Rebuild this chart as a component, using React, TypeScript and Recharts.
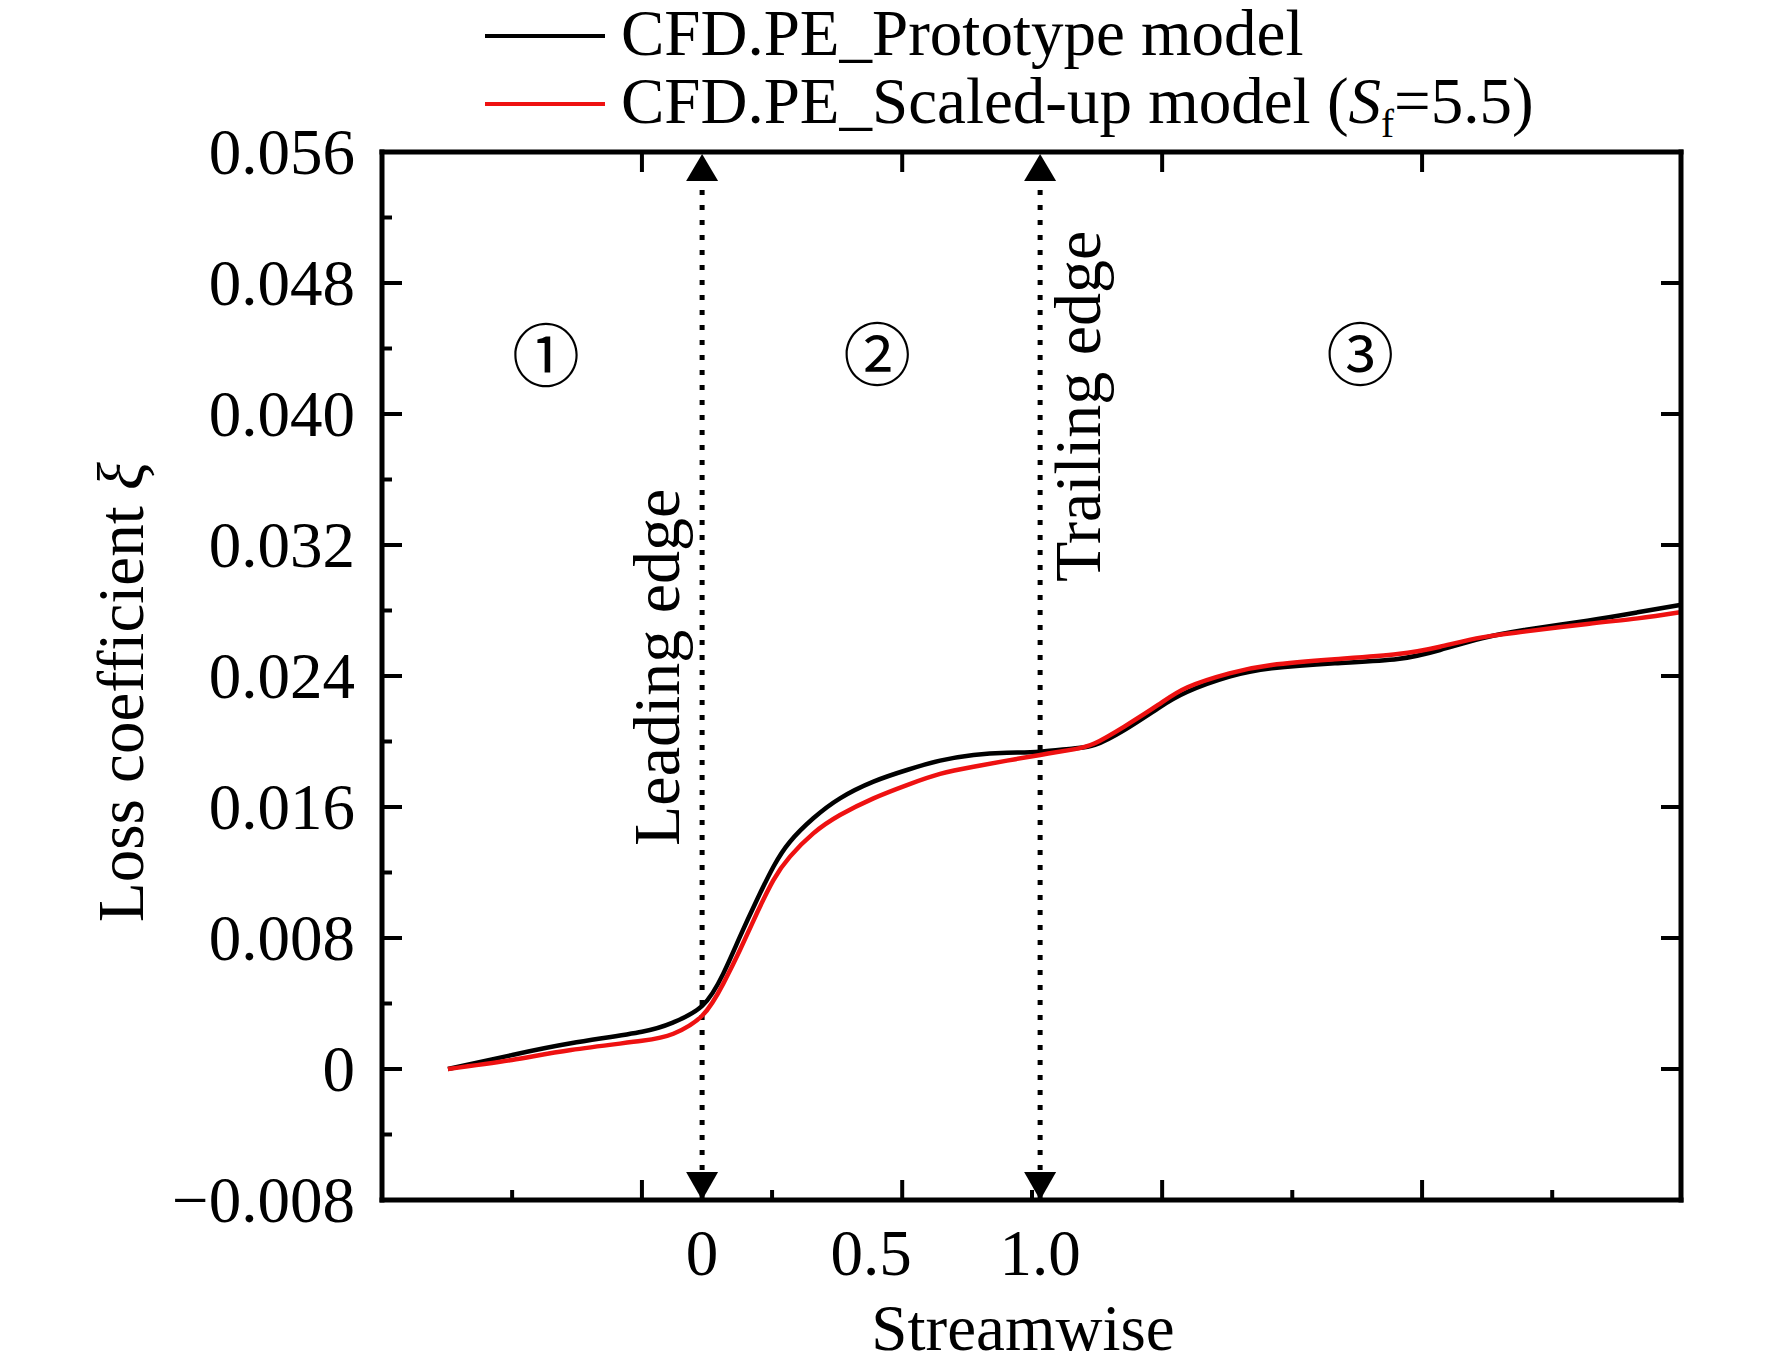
import { LineChart, Line, XAxis, YAxis, ReferenceLine, ReferenceDot, Legend } from "recharts";

// streamwise position (0 = leading edge, 1 = trailing edge)
const streamwise = [
  -0.752, -0.563, -0.388, -0.178, -0.085, 0.0, 0.063, 0.112, 0.162, 0.211, 0.26, 0.329,
  0.408, 0.507, 0.606, 0.704, 0.803, 0.902, 1.0, 1.099, 1.162, 1.249, 1.349, 1.436,
  1.56, 1.685, 1.872, 2.058, 2.183, 2.307, 2.432, 2.619, 2.768, 2.893,
];
const prototypeLoss = [
  0, 0.00085, 0.00157, 0.00228, 0.00285, 0.00385, 0.00584, 0.00808, 0.01032, 0.01235, 0.01388, 0.01531,
  0.01653, 0.01755, 0.01826, 0.01883, 0.01918, 0.01932, 0.01938, 0.01958, 0.01979, 0.0207, 0.02203, 0.02304,
  0.02396, 0.02447, 0.02478, 0.02504, 0.02559, 0.0263, 0.02681, 0.02738, 0.02789, 0.02834,
];
const scaledUpLoss = [
  0, 0.00055, 0.00116, 0.00172, 0.00215, 0.00325, 0.00523, 0.00727, 0.00951, 0.01154, 0.01297, 0.01439,
  0.01551, 0.01653, 0.01734, 0.01802, 0.01846, 0.01883, 0.01918, 0.01952, 0.01989, 0.02091, 0.02223, 0.02331,
  0.02416, 0.02467, 0.02502, 0.02534, 0.02579, 0.02636, 0.02671, 0.02718, 0.02752, 0.02789,
];

const xDomain: [number, number] = [-0.947, 2.896];
const xMajorMarks = [-0.178, 0.592, 1.361, 2.13];
const xMinorMarks = [-0.562, 0.207, 0.976, 1.746, 2.515];
const xLabelTicks = [0, 0.5, 1.0];
const xLabelText = ["0", "0.5", "1.0"];
const yDomain: [number, number] = [-0.008, 0.056];
const yTicks = [
  -0.008, -0.004, 0, 0.004, 0.008, 0.012, 0.016, 0.02, 0.024, 0.028, 0.032, 0.036, 0.04, 0.044, 0.048, 0.052, 0.056,
];
const yMajorTicks = [-0.008, 0, 0.008, 0.016, 0.024, 0.032, 0.04, 0.048, 0.056];
const edges = [0, 1.0];
const regions = [
  { s: -0.462, v: 0.0434, label: "①" },
  { s: 0.518, v: 0.0435, label: "②" },
  { s: 1.947, v: 0.0435, label: "③" },
];
const edgeNotes = [
  { s: -0.068, v: 0.01362, label: "Leading edge" },
  { s: 1.1775, v: 0.02974, label: "Trailing edge" },
];

const data = streamwise.map((s, i) => ({ s, prototype: prototypeLoss[i], scaledUp: scaledUpLoss[i] }));

const FONT = '"Liberation Serif", "Times New Roman", serif';
const FS = 65;
const INK = "#000";

const fmtY = (v: number) => (v === 0 ? "0" : v < 0 ? "\u2212" + Math.abs(v).toFixed(3) : v.toFixed(3));

const BottomTick = ({ x, y, payload }: any) => {
  const v = payload.value;
  const li = xLabelTicks.indexOf(v);
  if (li >= 0) {
    return (
      <text x={x} y={y + 75} textAnchor="middle" fontSize={FS} fontFamily={FONT} fill={INK}>
        {xLabelText[li]}
      </text>
    );
  }
  const len = xMajorMarks.includes(v) ? 20 : 10;
  return <line x1={x} x2={x} y1={y} y2={y - len} stroke={INK} strokeWidth={4} />;
};

const TopTick = ({ x, y }: any) => <line x1={x} x2={x} y1={y} y2={y + 20} stroke={INK} strokeWidth={4} />;

const LeftTick = ({ x, y, payload }: any) => {
  const v = payload.value;
  const major = yMajorTicks.includes(v);
  return (
    <g>
      <line x1={x} x2={x + (major ? 20 : 10)} y1={y} y2={y} stroke={INK} strokeWidth={4} />
      {major && (
        <text x={x - 27} y={y} dy={22} textAnchor="end" fontSize={FS} fontFamily={FONT} fill={INK}>
          {fmtY(v)}
        </text>
      )}
    </g>
  );
};

const RightTick = ({ x, y }: any) => <line x1={x} x2={x - 20} y1={y} y2={y} stroke={INK} strokeWidth={4} />;

const YTitle = () => (
  <text transform="translate(143,922) rotate(-90)" fontSize={FS} fontFamily={FONT} fill={INK}>
    Loss coefficient <tspan fontStyle="italic">ξ</tspan>
  </text>
);

const XTitle = () => (
  <text x={1023} y={1350} textAnchor="middle" fontSize={FS} fontFamily={FONT} fill={INK}>
    Streamwise
  </text>
);

const ArrowUp = ({ cx, cy }: any) => <path d={`M${cx},${cy + 2} L${cx - 16},${cy + 29} L${cx + 16},${cy + 29} Z`} fill={INK} />;
const ArrowDown = ({ cx, cy }: any) => <path d={`M${cx},${cy} L${cx - 16},${cy - 28} L${cx + 16},${cy - 28} Z`} fill={INK} />;

const legendLabels: Record<string, any> = {
  "CFD.PE_Scaled-up model (Sf=5.5)": (
    <>
      CFD.PE_Scaled-up model (<i>S</i>
      <span style={{ fontSize: "0.6em", position: "relative", top: "0.35em" }}>f</span>=5.5)
    </>
  ),
};

const renderLegend = ({ payload }: any) => (
  <div style={{ fontFamily: FONT, fontSize: FS, color: INK }}>
    {(payload || []).map((p: any) => (
      <div key={p.value} style={{ position: "relative", height: 68, whiteSpace: "nowrap" }}>
        <span
          style={{ position: "absolute", left: 0, top: 32, width: 120, height: 4, background: p.color }}
        />
        <span style={{ position: "absolute", left: 136, top: 0, lineHeight: "62px" }}>
          {legendLabels[p.value] ?? p.value}
        </span>
      </div>
    ))}
  </div>
);

export default function App() {
  return (
    <div style={{ position: "absolute", left: 0, top: 0, width: 1772, height: 1371, background: "#fff", fontFamily: FONT }}>
      <LineChart width={1772} height={1371} data={data} margin={{ top: 142, right: 81, bottom: 71, left: 282 }}>
        <XAxis
          xAxisId="bottom"
          dataKey="s"
          type="number"
          domain={xDomain}
          allowDataOverflow
          ticks={[...xMajorMarks, ...xMinorMarks, ...xLabelTicks].sort((a, b) => a - b)}
          interval={0}
          tick={BottomTick}
          tickLine={false}
          tickSize={0}
          tickMargin={0}
          height={100}
          axisLine={{ stroke: INK, strokeWidth: 5, strokeLinecap: "square" }}
          label={<XTitle />}
        />
        <XAxis
          xAxisId="top"
          orientation="top"
          dataKey="s"
          type="number"
          domain={xDomain}
          allowDataOverflow
          ticks={xMajorMarks}
          interval={0}
          tick={TopTick}
          tickLine={false}
          tickSize={0}
          tickMargin={0}
          height={10}
          axisLine={{ stroke: INK, strokeWidth: 5, strokeLinecap: "square" }}
        />
        <YAxis
          yAxisId="left"
          type="number"
          domain={yDomain}
          allowDataOverflow
          ticks={yTicks}
          interval={0}
          tick={LeftTick}
          tickLine={false}
          tickSize={0}
          tickMargin={0}
          width={100}
          axisLine={{ stroke: INK, strokeWidth: 5, strokeLinecap: "square" }}
          label={<YTitle />}
        />
        <YAxis
          yAxisId="right"
          orientation="right"
          type="number"
          domain={yDomain}
          allowDataOverflow
          ticks={yMajorTicks}
          interval={0}
          tick={RightTick}
          tickLine={false}
          tickSize={0}
          tickMargin={0}
          width={10}
          axisLine={{ stroke: INK, strokeWidth: 5, strokeLinecap: "square" }}
        />
        <Legend
          layout="horizontal"
          verticalAlign="middle"
          align="center"
          content={renderLegend}
          wrapperStyle={{ top: 2, left: 485, width: 1200, height: 140 }}
        />
        {edges.map((s) => (
          <ReferenceLine
            key={"edge" + s}
            xAxisId="bottom"
            yAxisId="left"
            x={s}
            stroke={INK}
            strokeWidth={5}
            strokeDasharray="5 10"
          />
        ))}
        <Line
          xAxisId="bottom"
          yAxisId="left"
          type="natural"
          dataKey="prototype"
          name="CFD.PE_Prototype model"
          stroke="#000000"
          strokeWidth={4.5}
          dot={false}
          isAnimationActive={false}
        />
        <Line
          xAxisId="bottom"
          yAxisId="left"
          type="natural"
          dataKey="scaledUp"
          name="CFD.PE_Scaled-up model (Sf=5.5)"
          stroke="#ee1111"
          strokeWidth={4.5}
          dot={false}
          isAnimationActive={false}
        />
        {edges.map((s) => (
          <ReferenceDot key={"up" + s} xAxisId="bottom" yAxisId="left" x={s} y={yDomain[1]} r={0} shape={ArrowUp} />
        ))}
        {edges.map((s) => (
          <ReferenceDot key={"down" + s} xAxisId="bottom" yAxisId="left" x={s} y={yDomain[0]} r={0} shape={ArrowDown} />
        ))}
        {regions.map((r) => (
          <ReferenceDot
            key={r.label}
            xAxisId="bottom"
            yAxisId="left"
            x={r.s}
            y={r.v}
            r={0}
            shape={({ cx, cy }: any) => (
              <text
                x={cx}
                y={cy}
                textAnchor="middle"
                dominantBaseline="central"
                fontSize={68}
                fontFamily='"Liberation Serif", "DejaVu Serif", "Noto Sans CJK JP", serif'
                fill={INK}
              >
                {r.label}
              </text>
            )}
          />
        ))}
        {edgeNotes.map((n) => (
          <ReferenceDot
            key={n.label}
            xAxisId="bottom"
            yAxisId="left"
            x={n.s}
            y={n.v}
            r={0}
            shape={({ cx, cy }: any) => (
              <text transform={`translate(${cx},${cy}) rotate(-90)`} fontSize={66} fontFamily={FONT} fill={INK}>
                {n.label}
              </text>
            )}
          />
        ))}
      </LineChart>
    </div>
  );
}
